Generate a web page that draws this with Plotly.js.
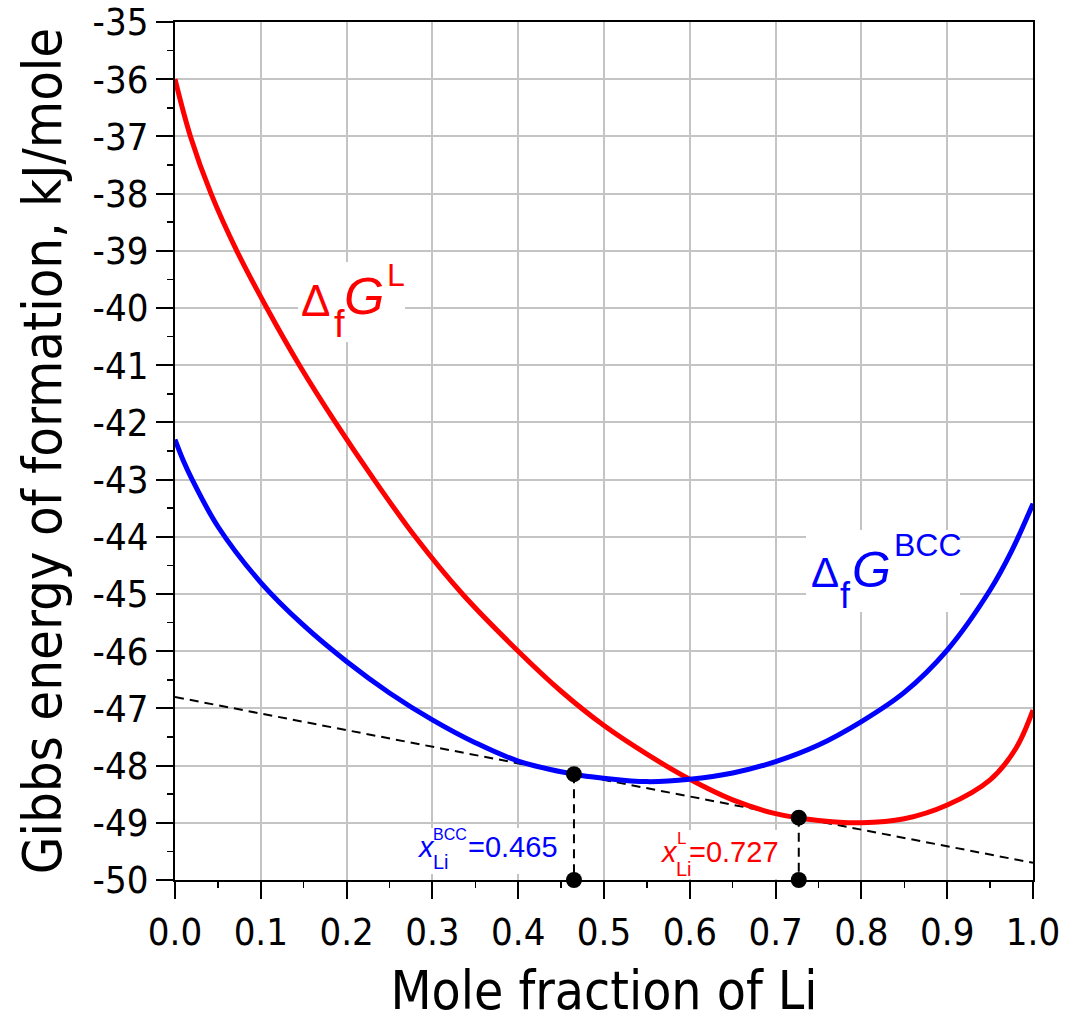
<!DOCTYPE html>
<html>
<head>
<meta charset="utf-8">
<script src="https://cdn.plot.ly/plotly-3.0.1.min.js"></script>
<style>html,body{margin:0;padding:0;background:#fff;}#chart{width:1066px;height:1021px;}</style>
</head>
<body>
<div id="chart"></div>
<script>
// ---- data ----
const liqX = [0, 0.018, 0.042, 0.072, 0.107, 0.145, 0.187, 0.232, 0.28, 0.335, 0.4, 0.45, 0.5, 0.55, 0.6, 0.65, 0.7, 0.75, 0.8, 0.85, 0.9, 0.95, 0.98, 1.0];
const liqG = [-36.0, -37.0, -38.0, -39.0, -40.0, -41.0, -42.0, -43.0, -44.0, -45.0, -46.0, -46.7, -47.3, -47.8, -48.24, -48.6, -48.84, -48.96, -49.0, -48.93, -48.69, -48.25, -47.7, -47.03];
const bccX = [0, 0.01, 0.02, 0.05, 0.1, 0.15, 0.2, 0.25, 0.3, 0.35, 0.4, 0.465, 0.5, 0.55, 0.6, 0.65, 0.7, 0.75, 0.8, 0.85, 0.9, 0.95, 0.975, 1.0];
const bccG = [-42.3, -42.68, -43.0, -43.82, -44.8, -45.55, -46.18, -46.73, -47.2, -47.6, -47.92, -48.15, -48.22, -48.28, -48.24, -48.13, -47.93, -47.64, -47.23, -46.72, -45.98, -44.93, -44.25, -43.42];
const tangentX = [0, 1];
const tangentG = [-46.8, -49.7];
const tieX = [0.465, 0.727];
const tieG = [-48.15, -48.91];
const yMin = -50, yMax = -35;
const xTickVals = [0, 0.1, 0.2, 0.3, 0.4, 0.5, 0.6, 0.7, 0.8, 0.9, 1.0];
const xTickText = ['0.0', '0.1', '0.2', '0.3', '0.4', '0.5', '0.6', '0.7', '0.8', '0.9', '1.0'];
const yTickVals = [-35, -36, -37, -38, -39, -40, -41, -42, -43, -44, -45, -46, -47, -48, -49, -50];
const yTickText = yTickVals.map(v => String(v));

const narrow = '"Liberation Sans Narrow", "Arial Narrow", "DejaVu Sans Condensed", sans-serif';
const sans = '"Liberation Sans", Arial, sans-serif';
const RED = '#ff0000', BLUE = '#0000ff';

// plot area in pixels (for placing labels)
const L = 175, R = 1033, T = 22, B = 880;
function px2x(px) { return (px - L) / (R - L); }
function py2y(py) { return (B - py) / (B - T); }
// label with baseline at py, left edge at px (no background; backgrounds are separate boxes)
function lab(text, px, py, size, color, italic) {
  const desc = 0.212;
  return {
    text: italic ? '<i>' + text + '</i>' : text,
    xref: 'paper', yref: 'paper',
    x: px2x(px - 1), y: py2y(py + desc * size + 1),
    xanchor: 'left', yanchor: 'bottom',
    showarrow: false, borderpad: 1,
    font: {family: sans, size: size, color: color}
  };
}
// white box behind a label
function bg(x0, y0, x1, y1) {
  return {type: 'rect', xref: 'paper', yref: 'paper', layer: 'above',
    x0: px2x(x0), x1: px2x(x1), y0: py2y(y1), y1: py2y(y0),
    fillcolor: '#fff', line: {width: 0}};
}

const dashed = {color: '#000', width: 2, dash: '9px,6px'};
const traces = [
  {x: tangentX, y: tangentG, mode: 'lines', line: dashed, hoverinfo: 'skip'},
  {x: [tieX[0], tieX[0]], y: [tieG[0], yMin], mode: 'lines', line: dashed, hoverinfo: 'skip'},
  {x: [tieX[1], tieX[1]], y: [tieG[1], yMin], mode: 'lines', line: dashed, hoverinfo: 'skip'},
  {x: liqX, y: liqG, mode: 'lines', line: {color: RED, width: 5, shape: 'spline', smoothing: 1}, name: 'L'},
  {x: bccX, y: bccG, mode: 'lines', line: {color: BLUE, width: 5, shape: 'spline', smoothing: 1}, name: 'BCC'},
  {x: [tieX[0], tieX[0], tieX[1], tieX[1]], y: [tieG[0], yMin, tieG[1], yMin], mode: 'markers',
   marker: {color: '#000', size: 16}, cliponaxis: false, hoverinfo: 'skip'}
];

const shapes = [
  bg(298, 262, 405, 342),
  bg(806, 530, 960, 612),
  bg(414, 828, 565, 874),
  bg(655, 830, 784, 879)
];

const annotations = [
  // Δf G^L
  lab('Δ', 300, 317, 44, RED, false),
  lab('f', 333, 338, 38, RED, false),
  lab('G', 343, 315, 52, RED, true),
  lab('L', 386, 287, 32, RED, false),
  // Δf G^BCC
  lab('Δ', 810, 588, 42, BLUE, false),
  lab('f', 839, 609, 36, BLUE, false),
  lab('G', 851, 588, 50, BLUE, true),
  lab('BCC', 893, 557, 32, BLUE, false),
  // x_Li^BCC = 0.465
  lab('x', 416, 858, 29, BLUE, true),
  lab('BCC', 432, 841, 16, BLUE, false),
  lab('Li', 432, 870, 20, BLUE, false),
  lab('=0.465', 467, 858, 29, BLUE, false),
  // x_Li^L = 0.727
  lab('x', 659, 863, 29, RED, true),
  lab('L', 676, 845, 17, RED, false),
  lab('Li', 675, 877, 20, RED, false),
  lab('=0.727', 688, 863, 29, RED, false)
];

const axisCommon = {
  showline: true, linecolor: '#000', linewidth: 2, mirror: true,
  showgrid: true, gridcolor: '#c4c4c4', gridwidth: 2, zeroline: false,
  ticks: 'outside', tickcolor: '#000', tickwidth: 2,
  tickfont: {family: narrow, size: 38, color: '#000'}
};

const layout = {
  width: 1066, height: 1021,
  margin: {l: 175, r: 33, t: 22, b: 141},
  paper_bgcolor: '#fff', plot_bgcolor: '#fff',
  showlegend: false,
  xaxis: Object.assign({}, axisCommon, {
    range: [0, 1], tickmode: 'array', tickvals: xTickVals, ticktext: xTickText, ticklen: 17,
    minor: {dtick: 0.05, ticks: 'outside', ticklen: 6, tickwidth: 1.5, tickcolor: '#000', showgrid: false},
    title: {text: 'Mole fraction of Li', font: {family: narrow, size: 53, color: '#000'}, standoff: 22}
  }),
  yaxis: Object.assign({}, axisCommon, {
    range: [yMin, yMax], tickmode: 'array', tickvals: yTickVals, ticktext: yTickText, ticklen: 17,
    minor: {dtick: 0.5, ticks: 'outside', ticklen: 6, tickwidth: 1.5, tickcolor: '#000', showgrid: false},
    title: {text: 'Gibbs energy of formation, kJ/mole', font: {family: narrow, size: 54, color: '#000'}, standoff: 14}
  }),
  shapes: shapes,
  annotations: annotations
};

Plotly.newPlot('chart', traces, layout, {displayModeBar: false, staticPlot: true});
</script>
</body>
</html>
